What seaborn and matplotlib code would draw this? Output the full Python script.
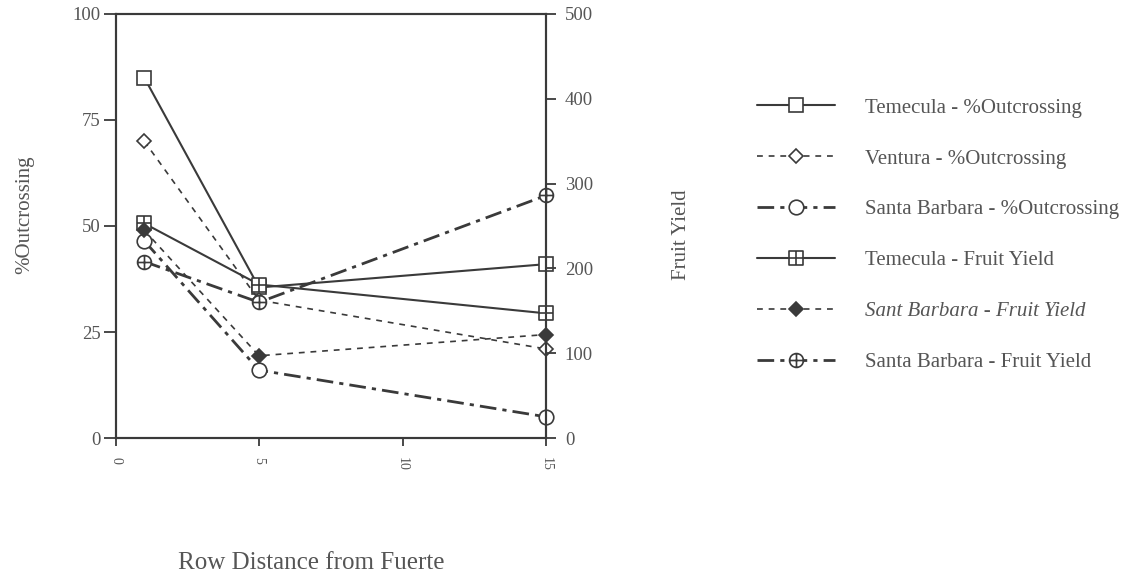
import matplotlib
matplotlib.use("Agg")
import matplotlib.pyplot as plt
import seaborn as sns
import pandas as pd
from matplotlib.path import Path

# values
row_distance = [1, 5, 15]
temecula_out = [85, 35.5, 41]
ventura_out = [70, 32.5, 21]
santa_barbara_out = [46.5, 16, 5]
temecula_yield = [253, 181, 147]
sant_barbara_yield = [245, 97, 122]
santa_barbara_yield = [208, 160, 286]

out_ticks = [0, 25, 50, 75, 100]
yield_ticks = [0, 100, 200, 300, 400, 500]
x_ticks = [0, 5, 10, 15]

sns.set_style("ticks")
plt.rcParams['font.family'] = ['Liberation Serif', 'DejaVu Serif']

ink = "#3a3a3a"
txt = "#555555"

# square / circle with a cross inside (open face, drawn as one path)
cross = Path([(-1, 0), (1, 0), (0, -1), (0, 1)],
             [Path.MOVETO, Path.LINETO, Path.MOVETO, Path.LINETO])
box = Path([(-1, -1), (1, -1), (1, 1), (-1, 1), (-1, -1)],
           [Path.MOVETO, Path.LINETO, Path.LINETO, Path.LINETO, Path.CLOSEPOLY])
box_plus = Path.make_compound_path(box, cross)
circle_plus = Path.make_compound_path(Path.unit_circle(), cross)

fig = plt.figure(figsize=(11.24, 5.8), dpi=100)
ax = fig.add_axes([0.1028, 0.2448, 0.3830, 0.7311])
ax2 = ax.twinx()

dash_short = (3.5, 3.5)
dash_dot = (6, 2.2, 1.5, 2.2)

series = [
    # axis, values, label, marker, marker size, fill, dashes, linewidth
    (ax, temecula_out, "Temecula - %Outcrossing", "s", 10.5, "white", None, 1.5),
    (ax, ventura_out, "Ventura - %Outcrossing", "D", 7, "white", dash_short, 1.2),
    (ax, santa_barbara_out, "Santa Barbara - %Outcrossing", "o", 10.5, "white", dash_dot, 2.0),
    (ax2, temecula_yield, "Temecula - Fruit Yield", box_plus, 10, "white", None, 1.5),
    (ax2, sant_barbara_yield, "Sant Barbara - Fruit Yield", "D", 7, ink, dash_short, 1.2),
    (ax2, santa_barbara_yield, "Santa Barbara - Fruit Yield", circle_plus, 10, "white", dash_dot, 2.0),
]

handles = []
for axis, vals, label, mk, ms, fc, dashes, lw in series:
    df = pd.DataFrame({"distance": row_distance, "value": vals})
    sns.lineplot(data=df, x="distance", y="value", ax=axis, color=ink,
                 marker=mk, markersize=ms, markerfacecolor=fc,
                 markeredgecolor=ink, markeredgewidth=1.2, linewidth=lw,
                 legend=False)
    line = axis.lines[-1]
    if dashes is not None:
        line.set_dashes(dashes)
    line.set_clip_on(False)
    line.set_label(label)
    handles.append(line)

ax.set_xlim(0, 15)
ax.set_ylim(0, 100)
ax2.set_ylim(0, 500)
ax.set_xticks(x_ticks)
ax.set_yticks(out_ticks)
ax2.set_yticks(yield_ticks)
ax.set_xticklabels([str(t) for t in x_ticks], rotation=270, fontsize=10)
ax.set_yticklabels([str(t) for t in out_ticks], fontsize=13.5)
ax2.set_yticklabels([str(t) for t in yield_ticks], fontsize=13.5)

for a in (ax, ax2):
    for s in a.spines.values():
        s.set_color(ink)
        s.set_linewidth(1.5)
ax.tick_params(axis="x", colors=ink, width=1.3, length=6, pad=8, labelcolor=txt)
ax.tick_params(axis="y", colors=ink, width=1.3, length=8.5, pad=2, labelcolor=txt)
ax2.tick_params(axis="y", colors=ink, width=1.3, length=7, pad=6.5, labelcolor=txt)

ax.set_xlabel("")
ax.set_ylabel("")
ax2.set_ylabel("")

fig.text(311 / 1124, 1 - 563 / 580, "Row Distance from Fuerte", ha="center",
         va="center", fontsize=18, color=txt)
fig.text(25 / 1124, 1 - 215 / 580, "%Outcrossing", ha="center", va="center",
         rotation=90, fontsize=15, color=txt)
fig.text(681 / 1124, 1 - 235 / 580, "Fruit Yield", ha="center", va="center",
         rotation=90, fontsize=15, color=txt)

leg = fig.legend(handles=handles, loc="center left",
                 bbox_to_anchor=(757 / 1124, 1 - 235 / 580),
                 frameon=False, fontsize=15, handlelength=3.75,
                 handletextpad=1.44, labelspacing=1.5, borderpad=0,
                 borderaxespad=0)
for t in leg.get_texts():
    t.set_color(txt)
leg.get_texts()[4].set_style("italic")

fig.savefig("out.png", dpi=100)
